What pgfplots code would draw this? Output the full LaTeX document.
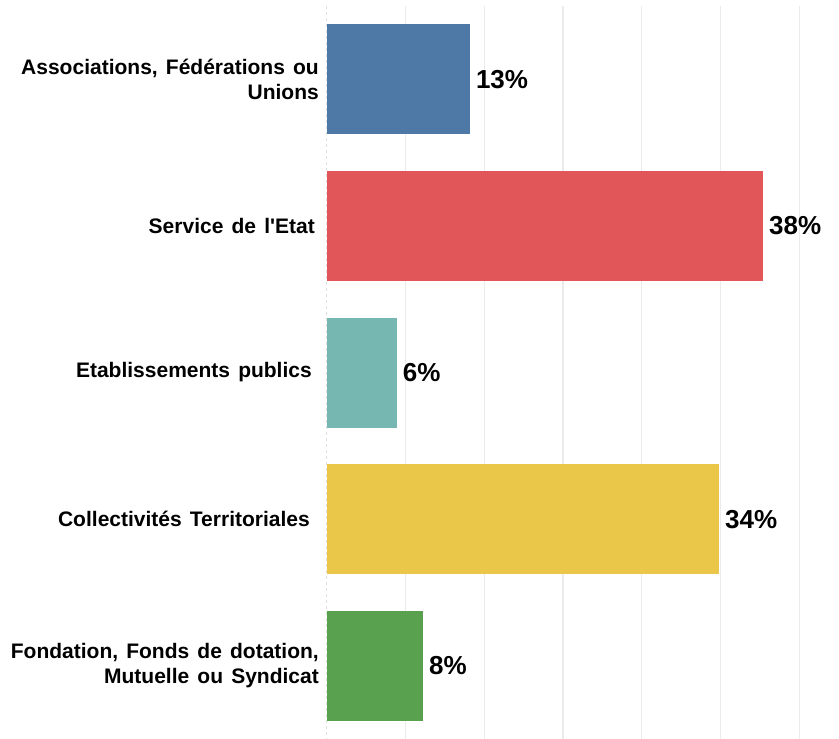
\documentclass[border=0pt]{standalone}
\usepackage{pgfplots}
\pgfplotsset{compat=1.18}
\usepackage{fontspec}
\setmainfont{Liberation Sans}[WordSpace=1.4]
\definecolor{cA}{HTML}{4E79A7}
\definecolor{cB}{HTML}{E15759}
\definecolor{cC}{HTML}{76B7B2}
\definecolor{cD}{HTML}{EAC749}
\definecolor{cE}{HTML}{59A14F}
\begin{document}
\begin{tikzpicture}[x=1pt,y=1pt]
\useasboundingbox (0,0) rectangle (839,739);
\begin{axis}[
  at={(327pt,0pt)}, anchor=south west,
  width=512pt, height=733pt, scale only axis,
  xmin=0, xmax=65.06, ymin=-0.5, ymax=4.5, y dir=reverse,
  xbar, bar width=110pt, bar shift=0pt,
  axis line style={draw=none}, major tick length=0pt,
  xtick={10,20,...,60}, xticklabels={},
  xmajorgrids, grid style={color=black!8, line width=1.2pt},
  extra x ticks={0}, extra x tick labels={},
  extra x tick style={grid style={color=black!12, dashed, line width=1pt}},
  ytick={0,...,4},
  yticklabels={{Associations, Fédérations ou\\Unions},{Service de l\textquotesingle Etat\kern4pt},{Etablissements publics\kern7pt},{Collectivités Territoriales\kern9pt},{Fondation, Fonds de dotation,\\Mutuelle ou Syndicat}},
  yticklabel style={align=right, inner sep=0pt, xshift=-8pt, font=\bfseries\fontsize{21}{25.5}\selectfont},
  nodes near coords, point meta=explicit symbolic,
  nodes near coords style={font=\bfseries\fontsize{26}{30}\selectfont, black, anchor=west, inner sep=0pt, xshift=6pt},
]
\addplot[fill=cA, draw=none] coordinates {(18.15,0) [13\%]};
\addplot[fill=cB, draw=none] coordinates {(55.4,1) [38\%]};
\addplot[fill=cC, draw=none] coordinates {(8.85,2) [6\%]};
\addplot[fill=cD, draw=none] coordinates {(49.8,3) [34\%]};
\addplot[fill=cE, draw=none] coordinates {(12.2,4) [8\%]};
\end{axis}
\end{tikzpicture}
\end{document}
